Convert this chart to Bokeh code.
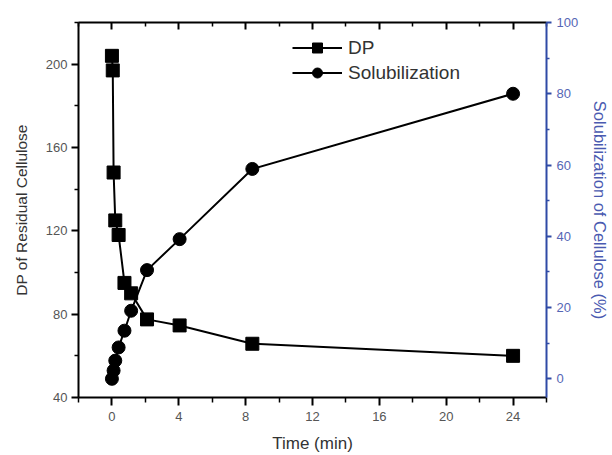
from bokeh.plotting import figure
from bokeh.models import (LinearAxis, Range1d, FixedTicker, Legend, LegendItem,
                          CustomJSTickFormatter)
from bokeh.embed import file_html
from bokeh.resources import INLINE

# ---- data ----
dp_time = [0.0, 0.05, 0.1, 0.2, 0.4, 0.75, 1.15, 2.1, 4.05, 8.4, 24.0]
dp_values = [204, 197, 148, 125, 118, 95, 90, 77.5, 74.6, 65.8, 60]

sol_time = [0.0, 0.1, 0.2, 0.4, 0.75, 1.15, 2.1, 4.05, 8.4, 24.0]
sol_values = [0.0, 2.3, 5.1, 8.8, 13.5, 19.1, 30.5, 39.2, 58.9, 80.0]

x_ticks = [0, 4, 8, 12, 16, 20, 24]
left_ticks = [40, 80, 120, 160, 200]
right_ticks = [0, 20, 40, 60, 80, 100]

FONT = "Liberation Sans"
BLUE = "#2f4aa6"
TXT = "#333333"

p = figure(width=612, height=455, output_backend="svg", toolbar_location=None,
           x_range=Range1d(-2, 26), y_range=Range1d(40, 220),
           min_border_left=78, min_border_right=66, min_border_top=22,
           min_border_bottom=58)
p.extra_y_ranges = {"sol": Range1d(-5.25, 100)}
p.grid.visible = False
p.outline_line_color = None
p.background_fill_color = "white"
p.border_fill_color = "white"

# left axis
ya = p.yaxis[0]
ya.ticker = FixedTicker(ticks=left_ticks, minor_ticks=[60, 100, 140, 180, 220])
ya.axis_label = "DP of Residual Cellulose"
ya.axis_label_text_font = FONT
ya.axis_label_text_font_size = "15.5px"
ya.axis_label_text_font_style = "normal"
ya.axis_label_text_color = TXT
ya.axis_label_standoff = 13
ya.major_label_text_font = FONT
ya.major_label_text_font_size = "13px"
ya.major_label_text_color = "#555555"
ya.major_label_standoff = 4
ya.major_tick_out = 7
ya.major_tick_in = 0
ya.minor_tick_out = 4
ya.minor_tick_in = 0
ya.axis_line_width = 2
ya.major_tick_line_width = 2
ya.minor_tick_line_width = 1.5

# bottom axis
xa = p.xaxis[0]
xa.ticker = FixedTicker(ticks=x_ticks, minor_ticks=[-2, 2, 6, 10, 14, 18, 22, 26])
xa.axis_label = "Time (min)"
xa.axis_label_text_font = FONT
xa.axis_label_text_font_size = "17px"
xa.axis_label_text_font_style = "normal"
xa.axis_label_text_color = TXT
xa.axis_label_standoff = 10
xa.major_label_text_font = FONT
xa.major_label_text_font_size = "13px"
xa.major_label_text_color = "#555555"
xa.major_label_standoff = 6
xa.major_tick_out = 8
xa.major_tick_in = 0
xa.minor_tick_out = 5
xa.minor_tick_in = 0
xa.axis_line_width = 2
xa.major_tick_line_width = 2
xa.minor_tick_line_width = 1.5

# top axis (ticks inward, no labels)
top = LinearAxis(ticker=FixedTicker(ticks=x_ticks, minor_ticks=[-2, 2, 6, 10, 14, 18, 22, 26]),
                 formatter=CustomJSTickFormatter(code="return ''"),
                 major_tick_in=7, major_tick_out=0, minor_tick_in=4, minor_tick_out=0,
                 axis_line_width=2, major_tick_line_width=2, minor_tick_line_width=1.5,
                 major_label_text_font_size="1px", major_label_standoff=0)
p.add_layout(top, "above")

# right axis (blue)
ra = LinearAxis(y_range_name="sol",
                ticker=FixedTicker(ticks=right_ticks, minor_ticks=[10, 30, 50, 70, 90]),
                axis_label="Solubilization of Cellulose (%)")
ra.axis_label_text_font = FONT
ra.axis_label_text_font_size = "16.5px"
ra.axis_label_text_font_style = "normal"
ra.axis_label_text_color = "#4a5ab0"
ra.axis_label_standoff = 10
ra.major_label_text_font = FONT
ra.major_label_text_font_size = "13px"
ra.major_label_text_color = "#5566b5"
ra.major_label_standoff = 5
ra.major_tick_out = 5
ra.major_tick_in = 0
ra.minor_tick_out = 3
ra.minor_tick_in = 0
ra.axis_line_color = BLUE
ra.major_tick_line_color = BLUE
ra.minor_tick_line_color = BLUE
ra.axis_line_width = 2
ra.major_tick_line_width = 2
ra.minor_tick_line_width = 1.5
p.add_layout(ra, "right")

# data
l1 = p.line(dp_time, dp_values, line_color="black", line_width=2)
s1 = p.scatter(dp_time, dp_values, marker="square", size=13,
               fill_color="black", line_color="black")
l2 = p.line(sol_time, sol_values, line_color="black", line_width=2, y_range_name="sol")
s2 = p.scatter(sol_time, sol_values, marker="circle", size=13,
               fill_color="black", line_color="black", y_range_name="sol")

legend = Legend(items=[LegendItem(label="DP", renderers=[l1, s1]),
                       LegendItem(label="Solubilization", renderers=[l2, s2])],
                location=(214, 312), glyph_width=50, glyph_height=25,
                label_height=25, spacing=0, padding=0, margin=0,
                label_standoff=6, border_line_color=None,
                background_fill_alpha=0,
                label_text_font=FONT, label_text_font_size="19px",
                label_text_color=TXT)
p.add_layout(legend)

open("out.html", "w").write(file_html(p, INLINE))
